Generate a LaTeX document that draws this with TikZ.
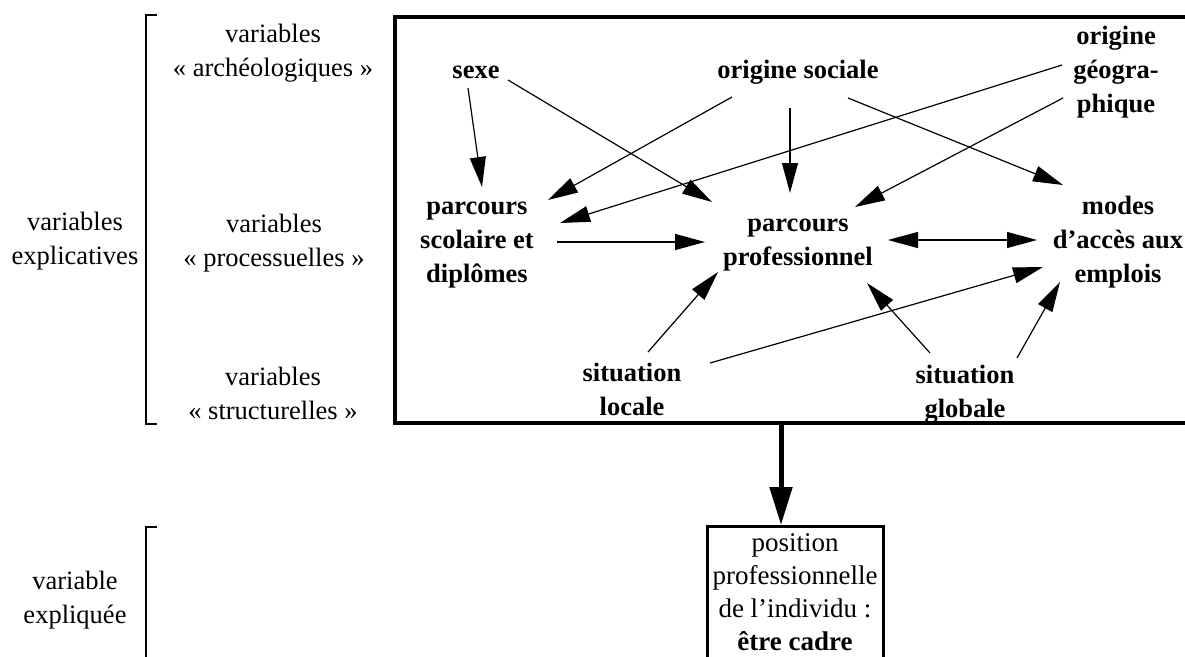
\documentclass[tikz,border=0pt]{standalone}
\usepackage{fontspec}
\setmainfont{Liberation Serif}
\usetikzlibrary{arrows.meta}

\tikzset{
  lab/.style={font=\fontsize{26.5}{34}\selectfont, align=center, inner sep=0pt},
  var/.style={font=\fontsize{26.5}{34}\selectfont\bfseries, align=center, inner sep=0pt},
  fleche/.style={line width=1.2pt, -{Triangle[length=30pt,width=16pt]}},
  double fleche/.style={line width=1.2pt, {Triangle[length=30pt,width=16pt]}-{Triangle[length=30pt,width=16pt]}},
  crochet/.style={line width=2pt},
  cadre/.style={draw, line width=4pt, inner sep=0pt},
}

\begin{document}
\begin{tikzpicture}[x=1pt, y=-1pt]
\useasboundingbox (0,0) rectangle (1185,656);

% left-hand brackets and level labels
\draw[crochet] (157,15) -- (146,15) -- (146,424) -- (157,424);
\draw[crochet] (157,527) -- (146,527) -- (146,680);

\node[lab] (explic) at (75,241) {variables\\explicatives};
\node[lab] (archeo) at (273,53) {variables\\« archéologiques »};
\node[lab] (process) at (274,243) {variables\\« processuelles »};
\node[lab] (struct) at (273,393) {variables\\« structurelles »};
\node[lab] (expliquee) at (75,600) {variable\\expliquée};

% frame around the explanatory variables
\node[cadre, minimum width=805pt, minimum height=406pt] (cadre) at (797.5,220) {};

\node[var] (sexe) at (476,72) {sexe};
\node[var] (origsoc) at (798,72) {origine sociale};
\node[var] (origgeo) at (1116,72) {origine\\géogra-\\phique};
\node[var] (scol) at (477,245) {parcours\\scolaire et\\diplômes};
\node[var] (pro) at (798,245) {parcours\\professionnel};
\node[var] (modes) at (1118,242) {modes\\d’accès aux\\emplois};
\node[var] (sitloc) at (632,389) {situation\\locale};
\node[var] (sitglob) at (965,394) {situation\\globale};

% explained variable
\node[draw, line width=3pt, anchor=north, minimum width=176pt, minimum height=180pt, inner sep=0pt] (posbox) at (795,525) {};
\node[font=\fontsize{27}{33}\selectfont, align=center, inner sep=0pt] (postext) at (795,592) {position\\professionnelle\\de l’individu :\\\textbf{être cadre}};

% causal links
\draw[fleche] ([shift={(-8,16)}]sexe.center) -- ([shift={(5,-58)}]scol.center);
\draw[fleche] ([shift={(32,8)}]sexe.center) -- ([shift={(-86,-43)}]pro.center);
\draw[fleche] ([shift={(-66,25)}]origsoc.center) -- ([shift={(71,-45)}]scol.center);
\draw[fleche] ([shift={(-8,36)}]origsoc.center) -- ([shift={(-8,-52)}]pro.center);
\draw[fleche] ([shift={(50,26)}]origsoc.center) -- ([shift={(-55,-57)}]modes.center);
\draw[fleche] ([shift={(-54,-7)}]origgeo.center) -- ([shift={(83,-22)}]scol.center);
\draw[fleche] ([shift={(-53,26)}]origgeo.center) -- ([shift={(57,-38)}]pro.center);
\draw[fleche] ([shift={(80,-3)}]scol.center) -- ([shift={(-93,-3)}]pro.center);
\draw[double fleche] ([shift={(90,-5)}]pro.center) -- ([shift={(-81,-2)}]modes.center);
\draw[fleche] ([shift={(16,-37)}]sitloc.center) -- ([shift={(-80,27)}]pro.center);
\draw[fleche] ([shift={(78,-26)}]sitloc.center) -- ([shift={(-75,25)}]modes.center);
\draw[fleche] ([shift={(-35,-41)}]sitglob.center) -- ([shift={(69,38)}]pro.center);
\draw[fleche] ([shift={(52,-36)}]sitglob.center) -- ([shift={(-58,40)}]modes.center);

% from the explanatory block to the explained variable
\coordinate (pointe) at ([xshift=-14pt]posbox.north);
\draw[line width=5pt, -{Triangle[length=38pt,width=22pt]}] (cadre.south -| pointe) -- (pointe);
\end{tikzpicture}
\end{document}
